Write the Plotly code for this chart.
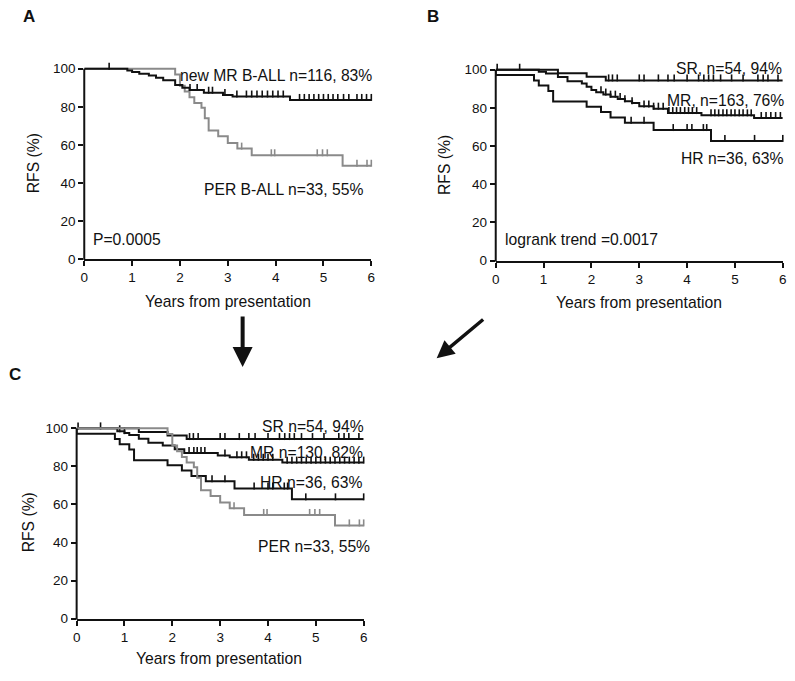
import plotly.graph_objects as go

# ---- data ----
# Panel A: new MR B-ALL vs PER B-ALL
a_mr_t = [0, 0.9, 1.0, 1.15, 1.35, 1.5, 1.65, 1.9, 2.05, 2.2, 2.5, 2.9, 3.1, 4.3, 6.0]
a_mr_s = [100, 99.1, 98.3, 97.4, 96.5, 95.2, 94.0, 91.4, 90.0, 88.8, 87.4, 86.2, 85.4, 83.6, 83.6]
a_mr_cens = [0.52, 2.21, 2.36, 2.6, 2.68, 2.94, 3.19, 3.39, 3.5, 3.61, 3.72, 3.83, 3.94, 4.05, 4.16,
             4.5, 4.6, 4.7, 4.8, 4.9, 5.0, 5.1, 5.2, 5.3, 5.42, 5.53, 5.7, 5.8, 5.9, 6.0]

per_t = [0, 1.9, 2.0, 2.1, 2.2, 2.3, 2.45, 2.52, 2.6, 2.8, 3.0, 3.2, 3.5, 5.4, 6.0]
per_s = [100, 97, 91, 88, 85, 82, 79.5, 74, 67.5, 64.5, 61, 58, 54.5, 49, 49]
per_cens = [3.29, 3.91, 3.98, 4.87, 4.98, 5.08, 5.7, 5.91, 6.0]

# Panel B: SR / MR / HR
sr_t = [0, 1.3, 1.9, 2.3, 6.0]
sr_s = [100, 98.1, 96.3, 94.4, 94.4]
sr_cens = [0.03, 0.5, 2.36, 2.44, 2.54, 3.0, 3.1, 3.4, 3.6, 3.73, 4.0, 4.24, 4.35, 4.45,
           4.55, 4.7, 4.93, 5.17, 5.48, 5.59, 5.69, 5.9]

b_mr_t = [0, 0.9, 1.05, 1.3, 1.5, 1.8, 1.9, 2.0, 2.1, 2.25, 2.4, 2.55, 2.7, 2.85, 3.0, 3.3, 3.6, 4.3, 5.4, 6.0]
b_mr_s = [100, 99, 98, 96.2, 94, 92.8, 91.1, 89.4, 88.2, 87, 85.9, 84.7, 83.5, 82.5, 80.8, 79.6, 77.3, 76.1, 74.7, 74.7]
b_mr_cens = [2.2, 2.3, 2.4, 2.5, 2.6, 2.7, 2.85, 3.1, 3.2, 3.3, 3.4, 3.5, 3.62, 3.7, 3.78, 3.86,
             3.95, 4.03, 4.11, 4.2, 4.5, 4.58, 4.66, 4.75, 4.83, 4.92, 5.0, 5.09, 5.17, 5.26,
             5.34, 5.55, 5.65, 5.75, 5.85, 5.95]

hr_t = [0, 0, 0.8, 0.9, 1.1, 1.2, 1.9, 2.2, 2.4, 2.7, 3.3, 4.5, 6.0]
hr_s = [100, 97.2, 94.4, 91.7, 88.9, 83.3, 80.6, 77.8, 75, 72.2, 68.4, 62.7, 62.7]
hr_cens = [2.83, 3.1, 3.71, 4.0, 4.1, 4.34, 4.41, 4.79, 5.41, 6.0]

# Panel C: SR / MR / HR / PER
c_mr_t = [0, 0.85, 1.0, 1.1, 1.3, 1.5, 1.8, 2.05, 2.25, 2.95, 3.2, 3.6, 4.3, 6.0]
c_mr_s = [100, 98.5, 97.5, 96.5, 94.5, 92.5, 91, 89, 87, 85.7, 84.8, 83.5, 82, 82]
c_mr_cens = [0.9, 1.0, 2.35, 2.45, 2.52, 2.6, 2.68, 3.1, 3.35, 3.45, 3.55, 3.7, 3.8, 3.9, 4.0,
             4.1, 4.4, 4.5, 4.6, 4.7, 4.8, 4.9, 5.0, 5.1, 5.2, 5.3, 5.4, 5.5, 5.6, 5.7, 5.8, 5.9, 6.0]

BLACK = "#111111"
GREY = "#8a8a8a"
FONT = "Liberation Sans, Arial, sans-serif"
OFF = 8                      # page body margin of the browser
W, H = 795 - OFF, 681 - OFF  # figure size so that it fills the window


def px(x):
    return (x - OFF) / W


def py(y):
    return 1 - (y - OFF) / H


def surv_at(ts, ss, x):
    v = ss[0]
    for t, s in zip(ts, ss):
        if t <= x:
            v = s
    return v


fig = go.Figure()

# screen pixel boxes of the three panels: left, right, y=0 row, y=100 row
panels = {
    "": (81, 371, 260, 66.7),
    "2": (496.7, 786.7, 261.7, 67.7),
    "3": (73.3, 363.3, 625.7, 432.3),
}
YTOP = 102


def add_curve(ax, ts, ss, cens, color, width=2):
    fig.add_trace(go.Scatter(x=ts, y=ss, mode="lines", line=dict(color=color, width=width, shape="hv"),
                             xaxis="x" + ax, yaxis="y" + ax, showlegend=False, hoverinfo="skip"))
    fig.add_trace(go.Scatter(x=cens, y=[surv_at(ts, ss, c) + 1.3 for c in cens], mode="markers",
                             marker=dict(symbol="line-ns", size=5, line=dict(color=color, width=1.6)),
                             cliponaxis=False, xaxis="x" + ax, yaxis="y" + ax,
                             showlegend=False, hoverinfo="skip"))


# A
add_curve("", per_t, per_s, per_cens, GREY)
add_curve("", a_mr_t, a_mr_s, a_mr_cens, BLACK)
# B
add_curve("2", sr_t, sr_s, sr_cens, BLACK)
add_curve("2", b_mr_t, b_mr_s, b_mr_cens, BLACK)
add_curve("2", hr_t, hr_s, hr_cens, BLACK)
# C
add_curve("3", sr_t, sr_s, sr_cens, BLACK)
add_curve("3", c_mr_t, c_mr_s, c_mr_cens, BLACK)
add_curve("3", hr_t, hr_s, hr_cens, BLACK)
add_curve("3", per_t, per_s, per_cens, GREY)

layout = dict(width=W, height=H, margin=dict(l=0, r=0, t=0, b=0),
              plot_bgcolor="white", paper_bgcolor="white",
              font=dict(family=FONT, color=BLACK))
shapes = []
for ax, (left, right, y0, y100) in panels.items():
    ytop = y0 - (y0 - y100) * YTOP / 100
    layout["xaxis" + ax] = dict(domain=[px(left), px(right)], anchor="y" + ax, range=[0, 6],
                                tickvals=[0, 1, 2, 3, 4, 5, 6], showgrid=False, zeroline=False,
                                showline=True, linewidth=2, linecolor=BLACK, ticks="outside",
                                ticklen=5, tickwidth=2, tickcolor=BLACK, tickfont=dict(size=13.5))
    layout["yaxis" + ax] = dict(domain=[py(y0), py(ytop)], anchor="x" + ax, range=[0, YTOP],
                                tickvals=[0, 20, 40, 60, 80, 100], showgrid=False, zeroline=False,
                                showline=False, ticks="outside", ticklen=5, tickwidth=2,
                                tickcolor=BLACK, tickfont=dict(size=13.5))
    shapes.append(dict(type="line", xref="paper", yref="paper", x0=px(left), x1=px(left),
                       y0=py(y0 + 1), y1=py(y100), line=dict(color=BLACK, width=2)))
layout["shapes"] = shapes
fig.update_layout(**layout)

ann = []


def txt(text, x, y, xanchor="center", size=15.7, bold=False, angle=0):
    ann.append(dict(text="<b>%s</b>" % text if bold else text, x=px(x), y=py(y),
                    xref="paper", yref="paper", xanchor=xanchor, yanchor="middle",
                    showarrow=False, textangle=angle, borderpad=0,
                    font=dict(size=size, family=FONT, color=BLACK)))


# panel letters
txt("A", 25, 14, size=17, bold=True)
txt("B", 433, 14, size=17, bold=True)
txt("C", 11, 378, size=17, bold=True)

# axis titles
for cx, cy in [(226, 303), (641.7, 304), (216.7, 666.7)]:
    txt("Years from presentation", cx, cy)
for cx, cy in [(30, 163), (445, 165), (25, 528)]:
    txt("RFS (%)", cx, cy, angle=-90)

# curve labels
txt("new MR B-ALL n=116, 83%", 373, 74, "right")
txt("PER B-ALL n=33, 55%", 364, 189, "right")
txt("P=0.0005", 89, 240, "left")
txt("SR, n=54, 94%", 786.5, 66.7, "right")
txt("MR, n=163, 76%", 788.5, 99, "right")
txt("HR n=36, 63%", 789, 157.7, "right")
txt("logrank trend =0.0017", 505, 240.7, "left")
txt("SR n=54, 94%", 365, 430.7, "right")
txt("MR n=130, 82%", 364, 456.7, "right")
txt("HR n=36, 63%", 364, 487.3, "right")
txt("PER n=33, 55%", 371, 552.7, "right")

# arrows between panels
ann.append(dict(x=px(241), y=py(370), xref="paper", yref="paper", ax=0, ay=-52,
                showarrow=True, arrowhead=2, arrowsize=1, arrowwidth=4, arrowcolor=BLACK, text=""))
ann.append(dict(x=px(437), y=py(361), xref="paper", yref="paper", ax=48, ay=-40,
                showarrow=True, arrowhead=2, arrowsize=1, arrowwidth=3.5, arrowcolor=BLACK, text=""))

fig.update_layout(annotations=ann)
fig.write_html("out.html")
